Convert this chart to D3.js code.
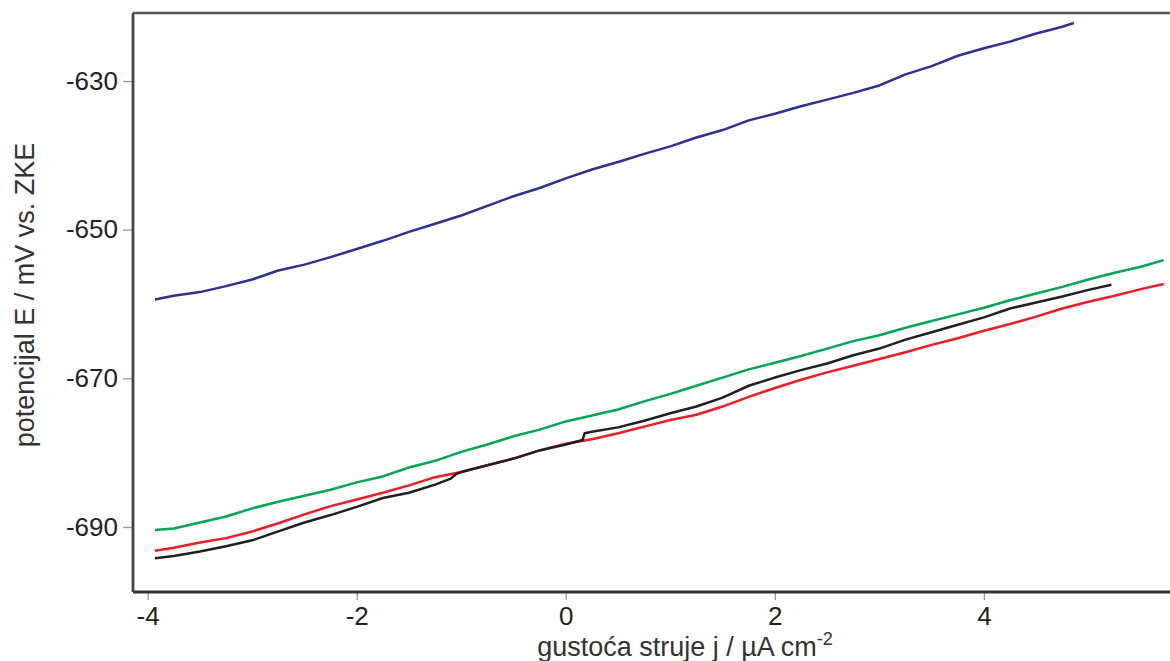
<!DOCTYPE html>
<html><head><meta charset="utf-8">
<script src="https://cdn.jsdelivr.net/npm/d3@7"></script>
<style>html,body{margin:0;padding:0;background:#fff;}svg{display:block;font-family:"Liberation Sans",Arial,sans-serif;}</style>
</head><body>
<svg id="c" width="1170" height="661"></svg>
<script>
const xTicks = [-4, -2, 0, 2, 4];
const yTicks = [-630, -650, -670, -690];
const xLabel = "gustoća struje j / µA cm";
const xLabelSup = "-2";
const yLabel = "potencijal E / mV vs. ZKE";

const blueX = [-3.93,-3.75,-3.5,-3.25,-3.0,-2.75,-2.5,-2.25,-2.0,-1.75,-1.5,-1.25,-1.0,-0.75,-0.5,-0.25,0,0.25,0.5,0.75,1.0,1.25,1.5,1.75,2.0,2.25,2.5,2.75,3.0,3.25,3.5,3.75,4.0,4.25,4.5,4.75,4.86];
const blueY = [-659.4,-658.9,-658.4,-657.6,-656.7,-655.5,-654.7,-653.7,-652.6,-651.5,-650.3,-649.2,-648.1,-646.8,-645.5,-644.4,-643.1,-641.9,-640.9,-639.8,-638.8,-637.6,-636.6,-635.3,-634.4,-633.4,-632.5,-631.6,-630.6,-629.1,-628.0,-626.6,-625.6,-624.7,-623.6,-622.7,-622.2];

const greenX = [-3.93,-3.75,-3.5,-3.25,-3.0,-2.75,-2.5,-2.25,-2.0,-1.75,-1.5,-1.25,-1.0,-0.75,-0.5,-0.25,0,0.25,0.5,0.75,1.0,1.25,1.5,1.75,2.0,2.25,2.5,2.75,3.0,3.25,3.5,3.75,4.0,4.25,4.5,4.75,5.0,5.25,5.5,5.72];
const greenY = [-690.4,-690.2,-689.4,-688.6,-687.5,-686.6,-685.8,-685.0,-684.0,-683.2,-682.0,-681.1,-679.9,-678.9,-677.8,-676.9,-675.8,-675.0,-674.2,-673.1,-672.1,-671.0,-669.9,-668.8,-667.9,-667.0,-666.0,-665.0,-664.2,-663.2,-662.3,-661.4,-660.5,-659.5,-658.6,-657.7,-656.7,-655.8,-655.0,-654.1];

const redX = [-3.93,-3.75,-3.5,-3.25,-3.0,-2.75,-2.5,-2.25,-2.0,-1.75,-1.5,-1.25,-1.0,-0.75,-0.5,-0.25,0,0.25,0.5,0.75,1.0,1.25,1.5,1.75,2.0,2.25,2.5,2.75,3.0,3.25,3.5,3.75,4.0,4.25,4.5,4.75,5.0,5.25,5.5,5.72];
const redY = [-693.2,-692.8,-692.1,-691.5,-690.6,-689.5,-688.3,-687.2,-686.3,-685.4,-684.4,-683.3,-682.6,-681.7,-680.8,-679.7,-678.8,-678.2,-677.4,-676.5,-675.6,-674.9,-673.8,-672.5,-671.3,-670.2,-669.2,-668.3,-667.4,-666.5,-665.5,-664.6,-663.6,-662.7,-661.7,-660.6,-659.7,-658.9,-658.0,-657.3];

const blackX = [-3.93,-3.75,-3.5,-3.25,-3.0,-2.75,-2.5,-2.25,-2.0,-1.75,-1.5,-1.25,-1.1,-1.05,-1.0,-0.75,-0.5,-0.25,0,0.16,0.18,0.25,0.5,0.75,1.0,1.25,1.5,1.75,2.0,2.25,2.5,2.75,3.0,3.25,3.5,3.75,4.0,4.25,4.5,4.75,5.0,5.22];
const blackY = [-694.2,-693.9,-693.3,-692.6,-691.8,-690.6,-689.4,-688.4,-687.3,-686.1,-685.4,-684.3,-683.5,-682.9,-682.6,-681.7,-680.8,-679.7,-678.9,-678.3,-677.4,-677.2,-676.6,-675.7,-674.7,-673.8,-672.6,-671.0,-669.9,-668.9,-668.0,-666.9,-666.0,-664.8,-663.8,-662.8,-661.8,-660.6,-659.8,-659.0,-658.1,-657.4];

const series = [
  {x: blueX, y: blueY, color: "#2e3192"},
  {x: greenX, y: greenY, color: "#00a651"},
  {x: redX, y: redY, color: "#ee1c25"},
  {x: blackX, y: blackY, color: "#231f20"}
];

const svg = d3.select("#c");
const L = 133, R = 1170, T = 13, B = 592;
const x = d3.scaleLinear().domain([-4.14, 5.78]).range([L, R]);
const y = d3.scaleLinear().domain([-698.75, -620.85]).range([B, T]);

const line = d3.line().x(d => x(d[0])).y(d => y(d[1]));
series.forEach(s => {
  const pts = s.x.map((v, i) => [v, s.y[i]]);
  svg.append("path").attr("d", line(pts)).attr("fill", "none")
    .attr("stroke", s.color).attr("stroke-width", 2.5).attr("stroke-linejoin", "round");
});

const xAxis = d3.axisBottom(x).tickValues(xTicks).tickSize(8).tickPadding(5).tickFormat(d => String(d));
const gx = svg.append("g").attr("transform", `translate(0,${B})`).call(xAxis);
const yAxis = d3.axisLeft(y).tickValues(yTicks).tickSize(10).tickPadding(5).tickFormat(d => String(d));
const gy = svg.append("g").attr("transform", `translate(${L},0)`).call(yAxis);
[gx, gy].forEach(g => {
  g.select(".domain").remove();
  g.selectAll(".tick line").attr("stroke", "#999").attr("stroke-width", 1.3);
  g.selectAll(".tick text").attr("font-size", 26).attr("fill", "#222")
    .attr("font-family", "'Liberation Sans', Arial, sans-serif");
});
gx.selectAll(".tick text").attr("dy", "0.78em");

// frame
svg.append("line").attr("x1", L).attr("x2", R).attr("y1", B).attr("y2", B).attr("stroke", "#333").attr("stroke-width", 2.8);
svg.append("line").attr("x1", L).attr("x2", L).attr("y1", T).attr("y2", B).attr("stroke", "#444").attr("stroke-width", 2.8);
svg.append("line").attr("x1", L).attr("x2", R).attr("y1", T).attr("y2", T).attr("stroke", "#555").attr("stroke-width", 2.4);

// labels
const xt = svg.append("text").attr("x", 685).attr("y", 656).attr("text-anchor", "middle")
  .attr("font-size", 27).attr("fill", "#333");
xt.append("tspan").text(xLabel);
xt.append("tspan").attr("dy", -11).attr("font-size", 18).text(xLabelSup);

svg.append("text").attr("transform", "translate(34,295) rotate(-90)").attr("text-anchor", "middle")
  .attr("font-size", 27).attr("fill", "#333").text(yLabel);
</script>
</body></html>
